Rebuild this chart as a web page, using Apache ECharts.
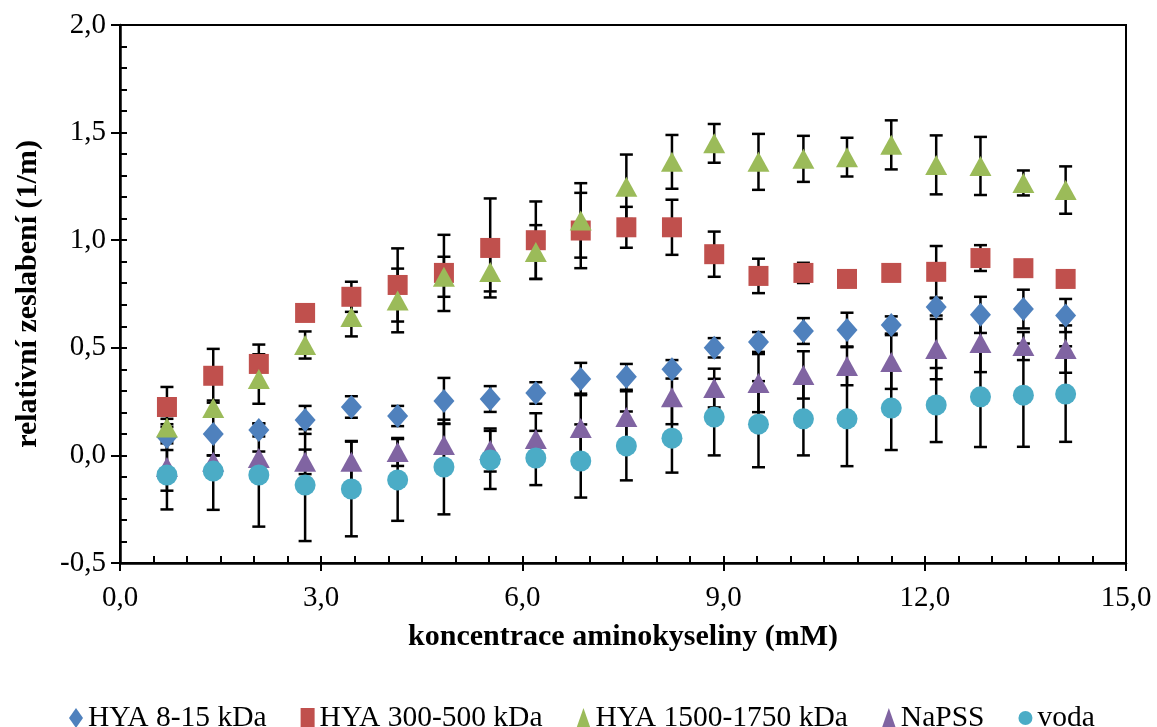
<!DOCTYPE html>
<html>
<head>
<meta charset="utf-8">
<script src="https://cdn.jsdelivr.net/npm/echarts@6/dist/echarts.min.js"></script>
<style>
  html, body { margin: 0; padding: 0; background: #fff; }
  #chart { width: 1157px; height: 727px; }
</style>
</head>
<body>
<div id="chart"></div>
<script>
// koncentrace (mM)
const xVals = [0.7, 1.39, 2.07, 2.76, 3.45, 4.14, 4.83, 5.52, 6.2, 6.87, 7.55, 8.23, 8.86, 9.52, 10.19, 10.84, 11.5, 12.17, 12.83, 13.47, 14.1]

const hya8 = [0.085, 0.10, 0.118, 0.165, 0.225, 0.183, 0.253, 0.262, 0.29, 0.355, 0.365, 0.40, 0.50, 0.527, 0.578, 0.583, 0.606, 0.69, 0.653, 0.68, 0.65]
const hya8Err = [0.06, 0.1, 0.03, 0.065, 0.05, 0.047, 0.107, 0.06, 0.05, 0.075, 0.06, 0.043, 0.045, 0.046, 0.06, 0.08, 0.04, 0.04, 0.084, 0.09, 0.077]

const hya300 = [0.225, 0.37, 0.425, 0.662, 0.737, 0.792, 0.848, 0.964, 1.0, 1.045, 1.06, 1.06, 0.935, 0.834, 0.848, 0.82, 0.848, 0.853, 0.917, 0.87, 0.82]
const hya300Err = [0.093, 0.125, 0.09, 0.02, 0.07, 0.17, 0.177, 0.23, 0.18, 0.175, 0.095, 0.128, 0.105, 0.08, 0.047, 0.02, 0.02, 0.12, 0.06, 0.02, 0.02]

const hya1500 = [0.13, 0.22, 0.355, 0.513, 0.643, 0.72, 0.83, 0.852, 0.945, 1.092, 1.248, 1.364, 1.45, 1.364, 1.378, 1.386, 1.443, 1.35, 1.345, 1.266, 1.233]
const hya1500Err = [0.04, 0.035, 0.115, 0.063, 0.09, 0.148, 0.093, 0.09, 0.125, 0.173, 0.15, 0.125, 0.09, 0.13, 0.107, 0.09, 0.114, 0.137, 0.135, 0.058, 0.11]

const napss = [-0.054, -0.03, -0.012, -0.03, -0.03, 0.016, 0.048, 0.025, 0.076, 0.127, 0.178, 0.27, 0.313, 0.336, 0.374, 0.416, 0.434, 0.494, 0.522, 0.508, 0.494]
const napssErr = [0.11, 0.03, 0.03, 0.057, 0.097, 0.065, 0.1, 0.1, 0.12, 0.16, 0.12, 0.125, 0.09, 0.135, 0.11, 0.09, 0.125, 0.14, 0.135, 0.065, 0.11]

const voda = [-0.091, -0.073, -0.091, -0.138, -0.156, -0.114, -0.054, -0.021, -0.012, -0.026, 0.044, 0.08, 0.178, 0.145, 0.17, 0.17, 0.22, 0.234, 0.272, 0.28, 0.285]
const vodaErr = [0.16, 0.18, 0.24, 0.26, 0.22, 0.19, 0.22, 0.135, 0.126, 0.17, 0.16, 0.16, 0.178, 0.2, 0.17, 0.22, 0.195, 0.172, 0.233, 0.24, 0.222]

const seriesDefs = [
  { name: 'HYA 8-15 kDa', vals: hya8, err: hya8Err, color: '#4F81BD', symbol: 'diamond', size: [21, 24] },
  { name: 'HYA 300-500 kDa', vals: hya300, err: hya300Err, color: '#C0504D', symbol: 'rect', size: 20 },
  { name: 'HYA 1500-1750 kDa', vals: hya1500, err: hya1500Err, color: '#9BBB59', symbol: 'triangle', size: [22, 20] },
  { name: 'NaPSS', vals: napss, err: napssErr, color: '#8064A2', symbol: 'triangle', size: [22, 20] },
  { name: 'voda', vals: voda, err: vodaErr, color: '#4BACC6', symbol: 'circle', size: 21 }
]

const font = '"Liberation Serif", "Times New Roman", "DejaVu Serif", serif'
const fmt = v => v.toFixed(1).replace('.', ',')

function renderErr(params, api) {
  const x = api.value(0)
  const top = api.coord([x, api.value(2)])
  const bot = api.coord([x, api.value(1)])
  const hw = 6.5
  const st = { stroke: '#000', lineWidth: 2.5 }
  return {
    type: 'group',
    children: [
      { type: 'line', shape: { x1: top[0], y1: top[1], x2: bot[0], y2: bot[1] }, style: st },
      { type: 'line', shape: { x1: top[0] - hw, y1: top[1], x2: top[0] + hw, y2: top[1] }, style: st },
      { type: 'line', shape: { x1: bot[0] - hw, y1: bot[1], x2: bot[0] + hw, y2: bot[1] }, style: st }
    ]
  }
}

const errSeries = seriesDefs.map(s => ({
  type: 'custom',
  name: s.name + ' err',
  renderItem: renderErr,
  encode: { x: 0, y: [1, 2] },
  data: xVals.map((x, i) => [x, s.vals[i] - s.err[i], s.vals[i] + s.err[i]]),
  z: 2,
  silent: true
}))

const markSeries = seriesDefs.map(s => ({
  type: 'scatter',
  name: s.name,
  symbol: s.symbol,
  symbolSize: s.size,
  itemStyle: { color: s.color, opacity: 1 },
  data: xVals.map((x, i) => [x, s.vals[i]]),
  z: 3
}))

const chart = echarts.init(document.getElementById('chart'))

const option = {
  animation: false,
  textStyle: { fontFamily: font },
  grid: {
    left: 120, right: 31, top: 25, bottom: 164,
    outerBoundsMode: 'none',
    containLabel: false,
    show: true, borderColor: '#000', borderWidth: 2
  },
  legend: {
    data: seriesDefs.map(s => ({ name: s.name, icon: s.symbol })),
    left: 64,
    top: 698,
    itemWidth: 14,
    itemHeight: 20,
    itemGap: 34,
    textStyle: { fontFamily: font, fontSize: 29.5, color: '#000' }
  },
  xAxis: [
    {
      type: 'value', min: 0, max: 15, interval: 3, position: 'bottom',
      name: 'koncentrace aminokyseliny (mM)',
      nameLocation: 'middle', nameGap: 59,
      nameTextStyle: { fontFamily: font, fontSize: 30, fontWeight: 'bold', color: '#000' },
      axisLine: { onZero: false, lineStyle: { color: '#000', width: 2.5 } },
      axisTick: { length: 8, lineStyle: { color: '#000', width: 2 } },
      axisLabel: { formatter: fmt, fontFamily: font, fontSize: 29, color: '#000', margin: 21 },
      splitLine: { show: false }
    },
    {
      type: 'value', min: 0, max: 15, interval: 0.5, position: 'bottom',
      axisLine: { show: false, onZero: false },
      axisTick: { inside: true, length: 7, lineStyle: { color: '#000', width: 2 } },
      axisLabel: { show: false },
      splitLine: { show: false }
    }
  ],
  yAxis: [
    {
      type: 'value', min: -0.5, max: 2, interval: 0.5, position: 'left',
      name: 'relativní zeslabení (1/m)',
      nameLocation: 'middle', nameGap: 77,
      nameTextStyle: { fontFamily: font, fontSize: 30, fontWeight: 'bold', color: '#000' },
      axisLine: { show: true, onZero: false, lineStyle: { color: '#000', width: 2.5 } },
      axisTick: { show: true, length: 9, lineStyle: { color: '#000', width: 2 } },
      axisLabel: { formatter: fmt, fontFamily: font, fontSize: 29, color: '#000', margin: 14 },
      splitLine: { show: false }
    },
    {
      type: 'value', min: -0.5, max: 2, interval: 0.1, position: 'left',
      axisLine: { show: false, onZero: false },
      axisTick: { show: true, inside: true, length: 7, lineStyle: { color: '#000', width: 2 } },
      axisLabel: { show: false },
      splitLine: { show: false }
    }
  ],
  series: errSeries.concat(markSeries)
}

chart.setOption(option)
</script>
</body>
</html>
